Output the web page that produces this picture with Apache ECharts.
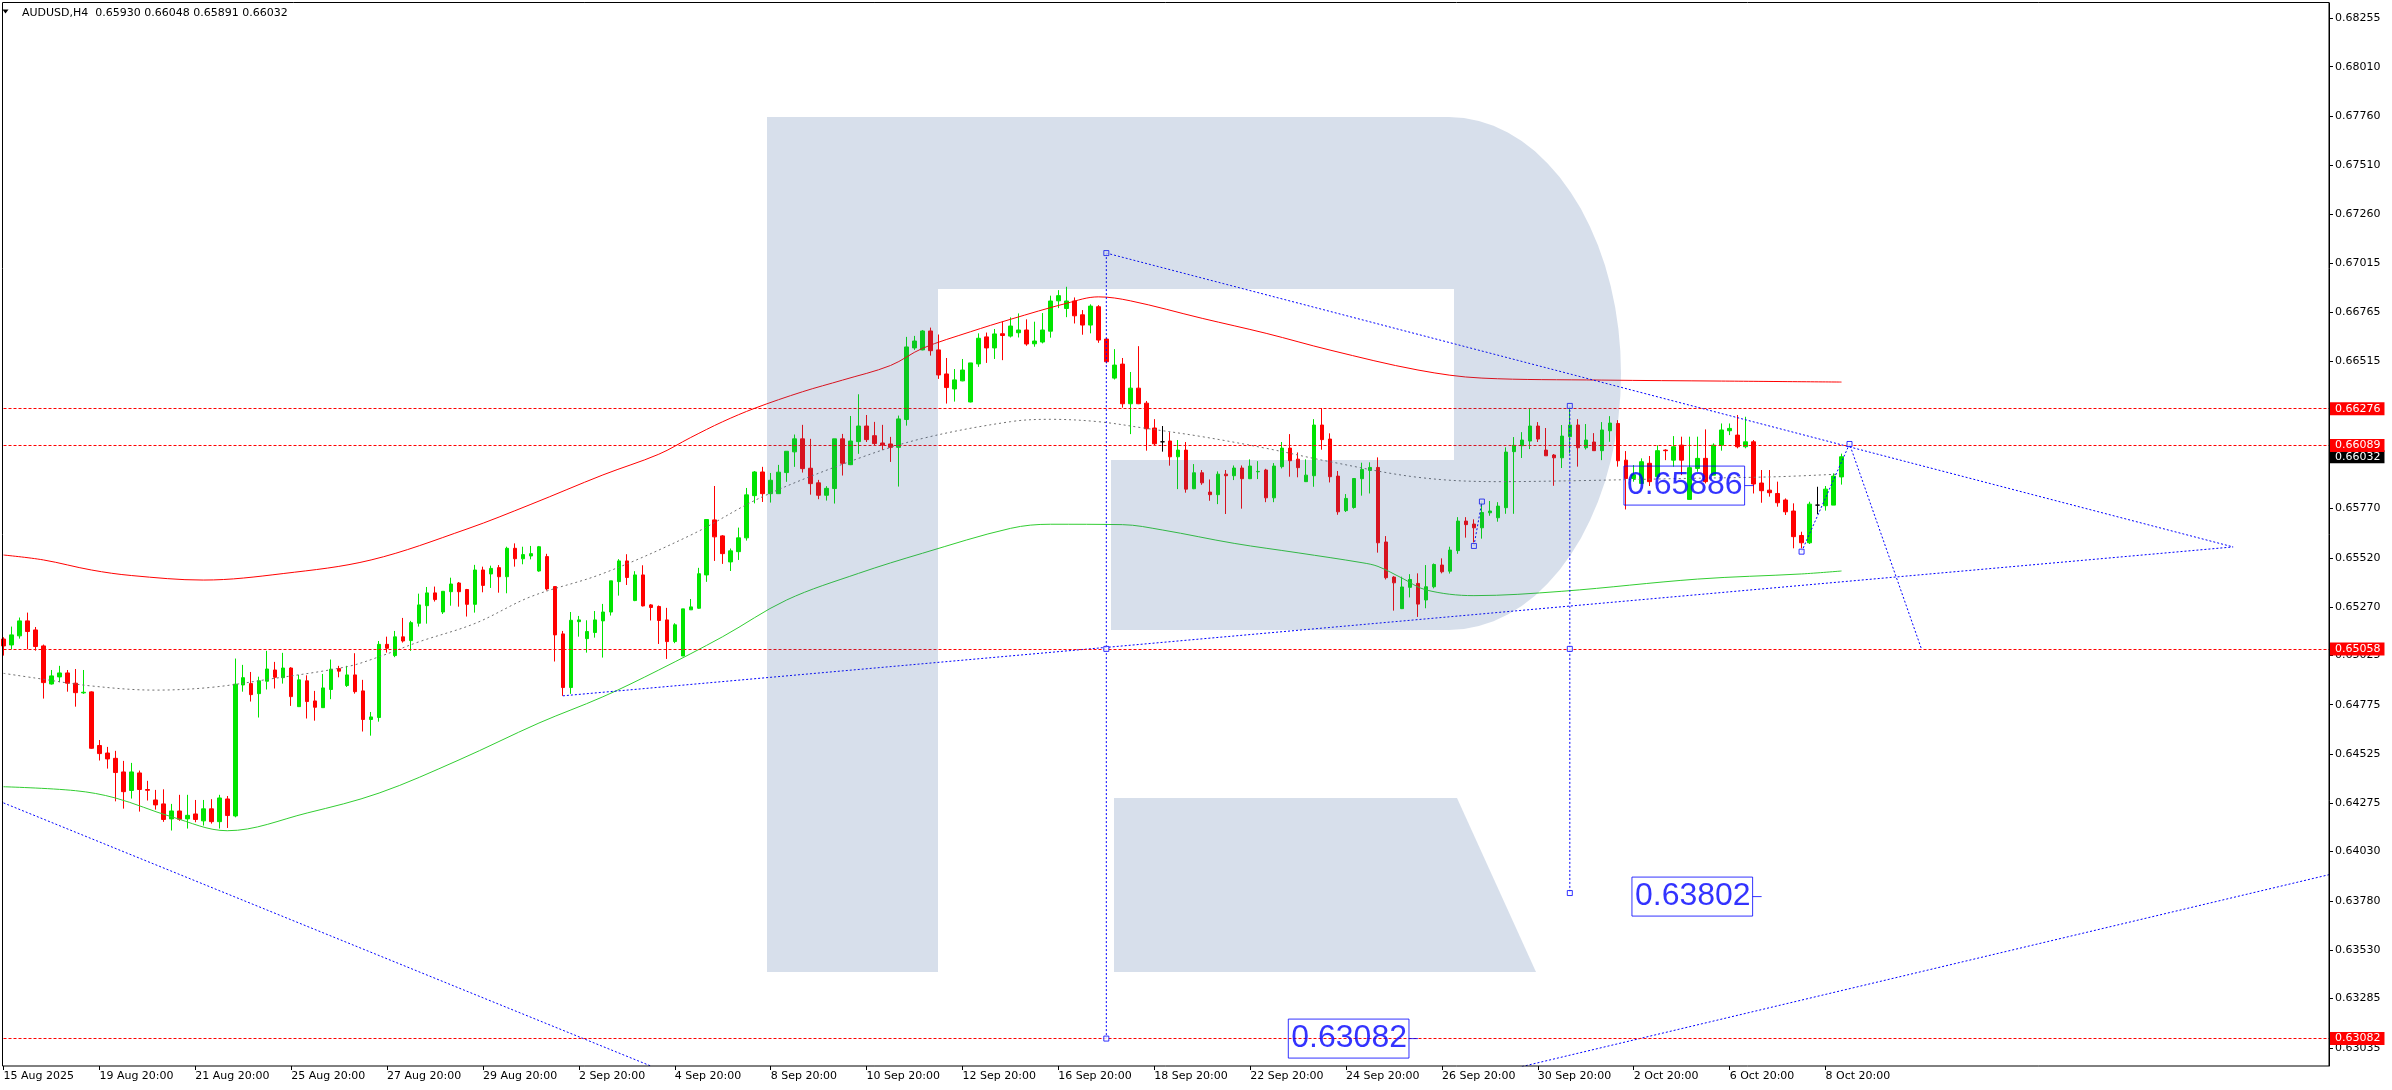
<!DOCTYPE html>
<html><head><meta charset="utf-8">
<script src="https://cdn.jsdelivr.net/npm/echarts@6/dist/echarts.min.js"></script>
<style>html,body{margin:0;padding:0;background:#fff;}#c{width:2392px;height:1090px;}</style>
</head><body><div id="c"></div>
<script>
const symbolName = 'AUDUSD', timeframe = 'H4';
const xTickLabels = ['15 Aug 2025','19 Aug 20:00','21 Aug 20:00','25 Aug 20:00','27 Aug 20:00','29 Aug 20:00','2 Sep 20:00','4 Sep 20:00','8 Sep 20:00','10 Sep 20:00','12 Sep 20:00','16 Sep 20:00','18 Sep 20:00','22 Sep 20:00','24 Sep 20:00','26 Sep 20:00','30 Sep 20:00','2 Oct 20:00','6 Oct 20:00','8 Oct 20:00'];
const barsPerLabel = 12;
const yTickValues = [0.68255,0.68010,0.67760,0.67510,0.67260,0.67015,0.66765,0.66515,0.65770,0.65520,0.65270,0.65025,0.64775,0.64525,0.64275,0.64030,0.63780,0.63530,0.63285,0.63035];

const opens = [
.65108,.65078,.65124,.65200,.65154,.65073,.64880,.64916,.64936,.64884,
.64835,.64840,.64568,.64530,.64503,.64434,.64340,.64429,.64345,.64292,
.64272,.64196,.64236,.64196,.64221,.64186,.64247,.64182,.64297,.64211,
.64875,.64882,.64831,.64894,.64951,.64912,.64961,.64765,.64896,.64794,
.64760,.64852,.64958,.64872,.64926,.64845,.64700,.64710,.65081,.65024,
.65119,.65100,.65188,.65277,.65342,.65245,.65348,.65392,.65359,.65284,
.65458,.65438,.65470,.65424,.65568,.65515,.65529,.65453,.65526,.65374,
.65134,.64862,.65196,.65110,.65141,.65200,.65245,.65399,.65504,.65303,
.65433,.65281,.65273,.65205,.65095,.65022,.65256,.65264,.65433,.65712,
.65631,.65499,.65551,.65621,.65835,.65955,.65845,.65845,.65952,.66057,
.66123,.65974,.65900,.65837,.65871,.66123,.65992,.66109,.66188,.66139,
.66102,.66097,.66080,.66221,.66584,.66574,.66670,.66574,.66452,.66376,
.66417,.66310,.66503,.66640,.66584,.66656,.66644,.66661,.66675,.66605,
.66614,.66669,.66823,.66784,.66822,.66752,.66700,.66793,.66629,.66431,
.66502,.66301,.66380,.66304,.66178,.66108,.66112,.66032,.66066,.65870,
.65951,.65853,.65840,.65944,.65936,.65975,.65921,.65956,.65965,.65824,
.65982,.66076,.66020,.65906,.65936,.66193,.66122,.65934,.65759,.65775,
.65921,.65963,.65978,.65600,.65422,.65262,.65370,.65390,.65306,.65373,
.65483,.65452,.65556,.65706,.65691,.65672,.65748,.65723,.65774,.66058,
.66088,.66112,.66188,.66066,.66041,.66027,.66134,.66193,.66078,.66107,
.66063,.66164,.66201,.66015,.65922,.65897,.65999,.65931,.66066,.66015,
.66091,.65816,.65973,.66024,.65939,.66091,.66164,.66142,.66083,.66108,
.65899,.65863,.65846,.65813,.65757,.65633,.65596,.65787,.65784,.65787,
.65930];
const highs = [
.65117,.65171,.65217,.65242,.65169,.65080,.64951,.64972,.64951,.64956,
.64951,.64843,.64596,.64561,.64541,.64490,.64480,.64441,.64389,.64343,
.64346,.64272,.64318,.64318,.64292,.64292,.64296,.64318,.64312,.65009,
.64977,.64941,.64917,.65048,.64992,.65038,.64965,.64926,.64924,.64845,
.64931,.65004,.64972,.64972,.65036,.64901,.64738,.65098,.65120,.65149,
.65215,.65200,.65338,.65372,.65374,.65350,.65419,.65397,.65362,.65484,
.65475,.65480,.65483,.65576,.65593,.65576,.65580,.65580,.65540,.65374,
.65149,.65245,.65225,.65203,.65250,.65286,.65403,.65513,.65538,.65452,
.65482,.65285,.65278,.65266,.65188,.65261,.65311,.65469,.65714,.65884,
.65635,.65567,.65673,.65874,.65960,.65981,.65950,.65991,.66060,.66145,
.66194,.66123,.65915,.65883,.66123,.66148,.66239,.66349,.66244,.66209,
.66194,.66133,.66241,.66640,.66645,.66675,.66687,.66652,.66533,.66477,
.66528,.66508,.66658,.66662,.66680,.66718,.66739,.66759,.66729,.66717,
.66761,.66849,.66877,.66894,.66840,.66776,.66805,.66801,.66632,.66578,
.66533,.66462,.66593,.66315,.66223,.66188,.66157,.66117,.66107,.65995,
.65965,.65917,.65958,.65965,.65988,.65988,.66019,.66010,.65971,.66000,
.66107,.66147,.66054,.66019,.66223,.66279,.66151,.65960,.65843,.65922,
.66002,.66004,.66029,.65630,.65427,.65424,.65437,.65441,.65483,.65491,
.65517,.65576,.65726,.65726,.65715,.65806,.65808,.65802,.66080,.66132,
.66157,.66277,.66208,.66178,.66046,.66193,.66286,.66223,.66198,.66152,
.66208,.66238,.66218,.66061,.65990,.66024,.66036,.66090,.66070,.66137,
.66134,.66134,.66134,.66171,.66100,.66201,.66201,.66244,.66235,.66117,
.65965,.65965,.65906,.65821,.65796,.65652,.65804,.65880,.65884,.65948,
.66048];
const lows = [
.65024,.65056,.65110,.65056,.65049,.64806,.64877,.64889,.64841,.64765,
.64830,.64551,.64492,.64451,.64285,.64248,.64299,.64233,.64289,.64243,
.64181,.64137,.64186,.64147,.64179,.64162,.64172,.64147,.64150,.64204,
.64841,.64791,.64710,.64852,.64857,.64882,.64769,.64764,.64705,.64694,
.64759,.64803,.64914,.64865,.64831,.64639,.64618,.64689,.65039,.65016,
.65090,.65048,.65171,.65186,.65298,.65235,.65277,.65272,.65222,.65242,
.65345,.65367,.65343,.65340,.65475,.65487,.65512,.65449,.65354,.64994,
.64820,.64830,.65120,.65039,.65115,.65014,.65227,.65328,.65382,.65300,
.65273,.65202,.65083,.65007,.65087,.65022,.65256,.65261,.65398,.65504,
.65489,.65453,.65509,.65607,.65796,.65803,.65800,.65844,.65905,.65981,
.65952,.65840,.65817,.65810,.65795,.65937,.65990,.66047,.66107,.66090,
.66067,.66006,.65881,.66190,.66574,.66572,.66545,.66427,.66302,.66312,
.66415,.66308,.66488,.66508,.66528,.66522,.66637,.66637,.66595,.66590,
.66607,.66636,.66786,.66740,.66708,.66651,.66658,.66610,.66506,.66424,
.66281,.66147,.66299,.66063,.66088,.66058,.65987,.65868,.65850,.65868,
.65890,.65809,.65792,.65742,.65914,.65769,.65919,.65919,.65802,.65802,
.65973,.65931,.65928,.65904,.65880,.66068,.65902,.65738,.65752,.65769,
.65835,.65846,.65546,.65410,.65252,.65260,.65319,.65220,.65264,.65365,
.65441,.65440,.65540,.65622,.65598,.65617,.65733,.65703,.65743,.65743,
.66026,.66071,.66107,.66037,.65885,.65975,.66049,.65982,.66069,.66063,
.66015,.66108,.65982,.65765,.65906,.65897,.65884,.65921,.66015,.65982,
.65939,.65816,.65956,.65897,.65939,.66063,.66142,.66075,.66075,.65846,
.65799,.65830,.65779,.65737,.65568,.65568,.65590,.65742,.65759,.65787,
.65891];
const closes = [
.65073,.65129,.65200,.65146,.65070,.64887,.64921,.64936,.64884,.64836,
.64838,.64554,.64527,.64500,.64431,.64334,.64434,.64345,.64341,.64267,
.64193,.64236,.64194,.64214,.64193,.64247,.64182,.64302,.64213,.64879,
.64912,.64826,.64896,.64956,.64914,.64961,.64816,.64901,.64791,.64762,
.64860,.64955,.64945,.64926,.64841,.64700,.64713,.65081,.65061,.65119,
.65098,.65191,.65281,.65342,.65308,.65350,.65387,.65348,.65284,.65458,
.65380,.65466,.65424,.65568,.65515,.65536,.65541,.65576,.65362,.65129,
.64862,.65203,.65205,.65146,.65205,.65245,.65403,.65504,.65420,.65433,
.65276,.65268,.65202,.65095,.65180,.65261,.65271,.65439,.65714,.65626,
.65541,.65555,.65621,.65839,.65955,.65845,.65913,.65954,.66060,.66123,
.65972,.65896,.65837,.65872,.66123,.65999,.66112,.66188,.66119,.66099,
.66092,.66080,.66224,.66589,.66619,.66670,.66570,.66447,.66383,.66422,
.66472,.66508,.66633,.66584,.66655,.66647,.66695,.66675,.66604,.66619,
.66675,.66822,.66849,.66822,.66747,.66700,.66796,.66624,.66514,.66497,
.66301,.66380,.66301,.66174,.66098,.66108,.66032,.66066,.65868,.65951,
.65900,.65840,.65944,.65936,.65975,.65921,.65985,.65958,.65824,.65985,
.66076,.66012,.65977,.65939,.66193,.66119,.65931,.65753,.65821,.65922,
.65968,.65978,.65596,.65419,.65393,.65372,.65410,.65285,.65373,.65486,
.65449,.65559,.65706,.65688,.65672,.65750,.65757,.65782,.66056,.66090,
.66117,.66188,.66122,.66037,.66027,.66137,.66193,.66078,.66117,.66063,
.66168,.66203,.66012,.65922,.65941,.66007,.65906,.66063,.66063,.66083,
.66015,.65977,.66024,.65906,.66091,.66168,.66176,.66083,.66108,.65894,
.65860,.65850,.65799,.65753,.65627,.65596,.65792,.65787,.65868,.65934,
.66032];
const dojiBars = [145, 227];

// moving averages read at points [bar, price]
const maRed = [[0,0.65534],[5,0.65509],[11,0.65458],[16,0.65430],[25,0.65407],[35,0.65440],[46,0.65509],[58,0.65666],[66,0.65791],[75,0.65940],[82,0.66045],[86,0.66130],[90,0.66210],[94,0.66278],[100,0.66362],[105,0.66421],[111,0.66495],[115,0.66582],[121,0.66666],[126,0.66729],[133,0.66810],[137,0.66843],[141,0.66823],[150,0.66734],[158,0.66658],[166,0.66573],[177,0.66472],[185,0.66431],[200,0.66421],[215,0.66416],[230,0.66411]];
const maGreen = [[0,0.64359],[9,0.64339],[14,0.64302],[21,0.64207],[28,0.64136],[38,0.64226],[47,0.64327],[57,0.64495],[67,0.64682],[75,0.64815],[82,0.64951],[90,0.65120],[98,0.65306],[107,0.65441],[115,0.65543],[126,0.65669],[131,0.65690],[140,0.65688],[145,0.65661],[154,0.65593],[162,0.65545],[170,0.65495],[172,0.65476],[175,0.65417],[178,0.65357],[184,0.65328],[195,0.65350],[212,0.65412],[225,0.65438],[230,0.65453]];
const maGray = [[0,0.64934],[4,0.64910],[11,0.64870],[19,0.64849],[26,0.64863],[33,0.64903],[43,0.64968],[47,0.65018],[52,0.65094],[59,0.65187],[66,0.65323],[75,0.65440],[86,0.65635],[95,0.65830],[107,0.66024],[115,0.66125],[126,0.66210],[131,0.66222],[137,0.66210],[143,0.66176],[150,0.66134],[158,0.66075],[166,0.66007],[177,0.65928],[187,0.65906],[197,0.65911],[210,0.65922],[222,0.65931],[230,0.65945]];

const levelLines = [0.66276, 0.66089, 0.65058, 0.63082];
const currentPrice = 0.66032;
const trendLines = [
  [[138,0.67065],[279,0.65575]],
  [[70,0.64820],[279,0.65575]],
  [[0,0.64277],[81,0.62943]],
  [[190,0.62940],[291,0.63913]],
  [[138,0.67065],[138,0.63082]],
  [[196,0.66290],[196,0.63820]],
  [[225,0.65551],[231,0.66097],[240,0.65058]],
  [[184,0.65580],[185,0.65805]]
];
const anchorPoints = [[138,0.67065],[138,0.65058],[138,0.63082],[196,0.66290],[196,0.65058],[196,0.63820],[231,0.66097],[225,0.65551],[184,0.65580],[185,0.65805]];
const priceBoxes = [[219,0.65886],[220,0.63802],[177,0.63082]];

const N_SLOTS = 292;
const cats = Array.from({length:N_SLOTS}, (_,i)=>'b'+i);
const labelAt = {};
xTickLabels.forEach((t,k)=>{ labelAt[k*barsPerLabel] = t; });
const f5 = v => Number(v).toFixed(5);
const FONT = 'DejaVu Sans';

const candleData = opens.map((o,i)=>{
  const v = [o, closes[i], lows[i], highs[i]];
  if (dojiBars.indexOf(i) >= 0) return {value:v, itemStyle:{color:'#000',color0:'#000',borderColor:'#000',borderColor0:'#000'}};
  return v;
});

const blue = '#0000ff';
const series = [];
series.push({type:'line', data:[], silent:true,
  markLine:{silent:true, z:4, precision:5, symbol:['none','none'], animation:false,
    lineStyle:{color:'rgba(0,0,0,0)', width:0},
    label:{show:true, position:'end', distance:1, color:'#ffffff', backgroundColor:'#000000', padding:[1,4,1,5], fontSize:11, fontFamily:FONT, opacity:1, formatter:p=>f5(p.value)},
    data:[{yAxis:currentPrice}]}});
series.push({type:'candlestick', data:candleData, barWidth:4, clip:true,
  itemStyle:{color:'#00e400', color0:'#ff0000', borderColor:'#00e400', borderColor0:'#ff0000', borderWidth:1},
  markLine:{silent:true, z:5, precision:5, symbol:['none','none'], animation:false,
    lineStyle:{color:'#ff0000', type:[3,2], width:1},
    label:{show:true, position:'end', distance:1, color:'#fff', backgroundColor:'#ff0000', padding:[1,4,1,5], fontSize:11, fontFamily:FONT, formatter:p=>f5(p.value)},
    data:levelLines.map(v=>({yAxis:v}))}
});
[[maRed,'#ff0000','solid'],[maGreen,'#32cd32','solid'],[maGray,'#707070',[2,3]]].forEach(([d,c,t])=>{
  series.push({type:'line', data:d, smooth:0.35, showSymbol:false, silent:true, z:3,
    lineStyle:{color:c, width:1, type:t}});
});
trendLines.forEach(d=>{
  series.push({type:'line', data:d, showSymbol:false, silent:true, z:4,
    lineStyle:{color:blue, width:1, type:[2,2]}});
});
series.push({type:'scatter', data:anchorPoints, symbol:'rect', symbolSize:5, silent:true, z:6,
  itemStyle:{color:'#fff', borderColor:blue, borderWidth:1}});
series.push({type:'scatter', silent:true, z:7,
  data:priceBoxes.map(p=>({value:p, text:f5(p[1])})),
  symbol:'rect', symbolSize:[9,1], symbolOffset:[-4.5,0], itemStyle:{color:blue},
  label:{show:true, position:'left', distance:0, formatter:d=>d.data.text, color:blue,
    fontSize:32, fontFamily:'Liberation Sans', borderColor:blue, borderWidth:1, padding:[3,2,1,3], lineHeight:35}
});

// watermark shape
const wmPts = [[767,117],[1449,117]];
for (let a=-90; a<=90; a+=5){ const r=a*Math.PI/180; wmPts.push([1449+172*Math.cos(r), 373.5+256.5*Math.sin(r)]); }
wmPts.push([1111,630],[1111,460],[1454,460],[1454,289],[938,289],[938,972],[767,972]);
const legPts = [[1114,798],[1457,798],[1536,972],[1114,972]];

const last = opens.length-1;
const header = `${symbolName},${timeframe}  ${f5(opens[last])} ${f5(highs[last])} ${f5(lows[last])} ${f5(closes[last])}`;

const chart = echarts.init(document.getElementById('c'), null, {renderer:'canvas', width:2392, height:1090});
chart.setOption({
  animation:false,
  backgroundColor:'#ffffff',
  textStyle:{fontFamily:FONT},
  grid:{left:3.5, top:3, right:63, bottom:24, containLabel:false},
  xAxis:{type:'category', data:cats, boundaryGap:false,
    axisLine:{show:false},
    axisTick:{show:true, length:4, interval:(i)=>labelAt[i]!==undefined, lineStyle:{color:'#000'}},
    axisLabel:{show:true, interval:(i)=>labelAt[i]!==undefined, formatter:(v,i)=>labelAt[i]||'', align:'left', margin:5, color:'#000', fontSize:11, fontFamily:FONT},
    splitLine:{show:false}},
  yAxis:{type:'value', position:'right', min:0.62943, max:0.68333, scale:true,
    axisLine:{show:true, lineStyle:{color:'#000'}},
    axisTick:{show:true, length:4, customValues:yTickValues, lineStyle:{color:'#000'}},
    axisLabel:{show:true, customValues:yTickValues, formatter:v=>f5(v), margin:6, color:'#000', fontSize:11, fontFamily:FONT},
    splitLine:{show:false}},
  series:series,
  graphic:[
    {type:'polygon', shape:{points:wmPts}, style:{fill:'rgba(55,96,153,0.2)'}, z:50, silent:true},
    {type:'polygon', shape:{points:legPts}, style:{fill:'rgba(55,96,153,0.2)'}, z:50, silent:true},
    {type:'rect', shape:{x:2.5, y:2.5, width:2326.5, height:1063.5}, style:{fill:'none', stroke:'#000', lineWidth:1}, z:60, silent:true},
    {type:'polygon', shape:{points:[[2.5,9.5],[8.5,9.5],[5.5,13.5]]}, style:{fill:'#000'}, z:60},
    {type:'text', x:22, y:13, style:{text:header, fill:'#000', font:'11px "DejaVu Sans"', verticalAlign:'middle'}, z:60}
  ]
});
</script></body></html>
